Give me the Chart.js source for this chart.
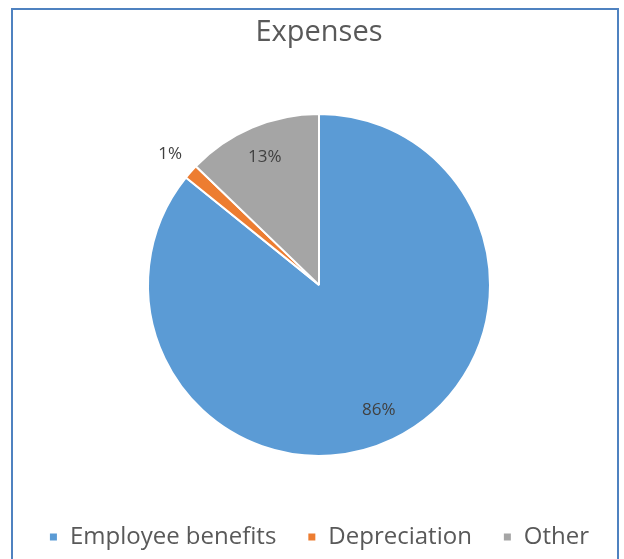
<!DOCTYPE html>
<html>
<head>
<meta charset="utf-8">
<script src="https://cdn.jsdelivr.net/npm/chart.js@4.4.1/dist/chart.umd.min.js"></script>
<style>
  html, body { margin: 0; padding: 0; background: #ffffff; }
  #wrap { position: relative; width: 624px; height: 559px; overflow: hidden; }
  #frame {
    position: absolute; left: 11px; top: 8px; width: 604px; height: 600px;
    border: 2px solid #4f82c0; box-sizing: content-box;
  }
  #c { position: absolute; left: 0; top: 0; }
</style>
</head>
<body>
<div id="wrap">
  <div id="frame"></div>
  <canvas id="c" width="624" height="559"></canvas>
</div>
<script>
// Expense breakdown (percent of total)
const categories = ['Employee benefits', 'Depreciation', 'Other'];
const shares = [85.8, 1.4, 12.8];
const sliceColors = ['#5b9bd5', '#ed7d31', '#a5a5a5'];
const chartTitle = 'Expenses';

const FONT = "'Open Sans', 'Noto Sans', sans-serif";

// Percentage labels: inside the slice, or just outside for very thin slices
const sliceLabels = {
  id: 'sliceLabels',
  afterDatasetsDraw(chart) {
    const ctx = chart.ctx;
    const meta = chart.getDatasetMeta(0);
    const values = chart.data.datasets[0].data;
    const total = values.reduce((a, b) => a + b, 0);
    ctx.save();
    ctx.font = '17px ' + FONT;
    ctx.fillStyle = '#404040';
    ctx.textAlign = 'center';
    ctx.textBaseline = 'middle';
    meta.data.forEach((arc, i) => {
      const p = arc.getProps(['x', 'y', 'startAngle', 'endAngle', 'outerRadius'], true);
      const mid = (p.startAngle + p.endAngle) / 2;
      const pct = values[i] / total * 100;
      const r = pct < 3 ? p.outerRadius * 1.16 : p.outerRadius * 0.81;
      ctx.fillText(Math.round(pct) + '%', p.x + Math.cos(mid) * r, p.y + Math.sin(mid) * r);
    });
    ctx.restore();
  }
};

new Chart(document.getElementById('c'), {
  type: 'pie',
  data: {
    labels: categories,
    datasets: [{
      data: shares,
      backgroundColor: sliceColors,
      borderColor: '#ffffff',
      borderWidth: 2,
      radius: 171
    }]
  },
  options: {
    responsive: false,
    animation: false,
    layout: { padding: { left: 14, right: 0, top: 0, bottom: 0 } },
    plugins: {
      title: {
        display: true,
        text: chartTitle,
        color: '#595959',
        font: { family: FONT, size: 29, weight: 'normal' },
        padding: { top: 15, bottom: 26 }
      },
      legend: {
        position: 'bottom',
        labels: {
          color: '#595959',
          font: { family: FONT, size: 24 },
          boxWidth: 9,
          boxHeight: 9,
          padding: 31
        }
      },
      tooltip: { enabled: false }
    }
  },
  plugins: [sliceLabels]
});
</script>
</body>
</html>
